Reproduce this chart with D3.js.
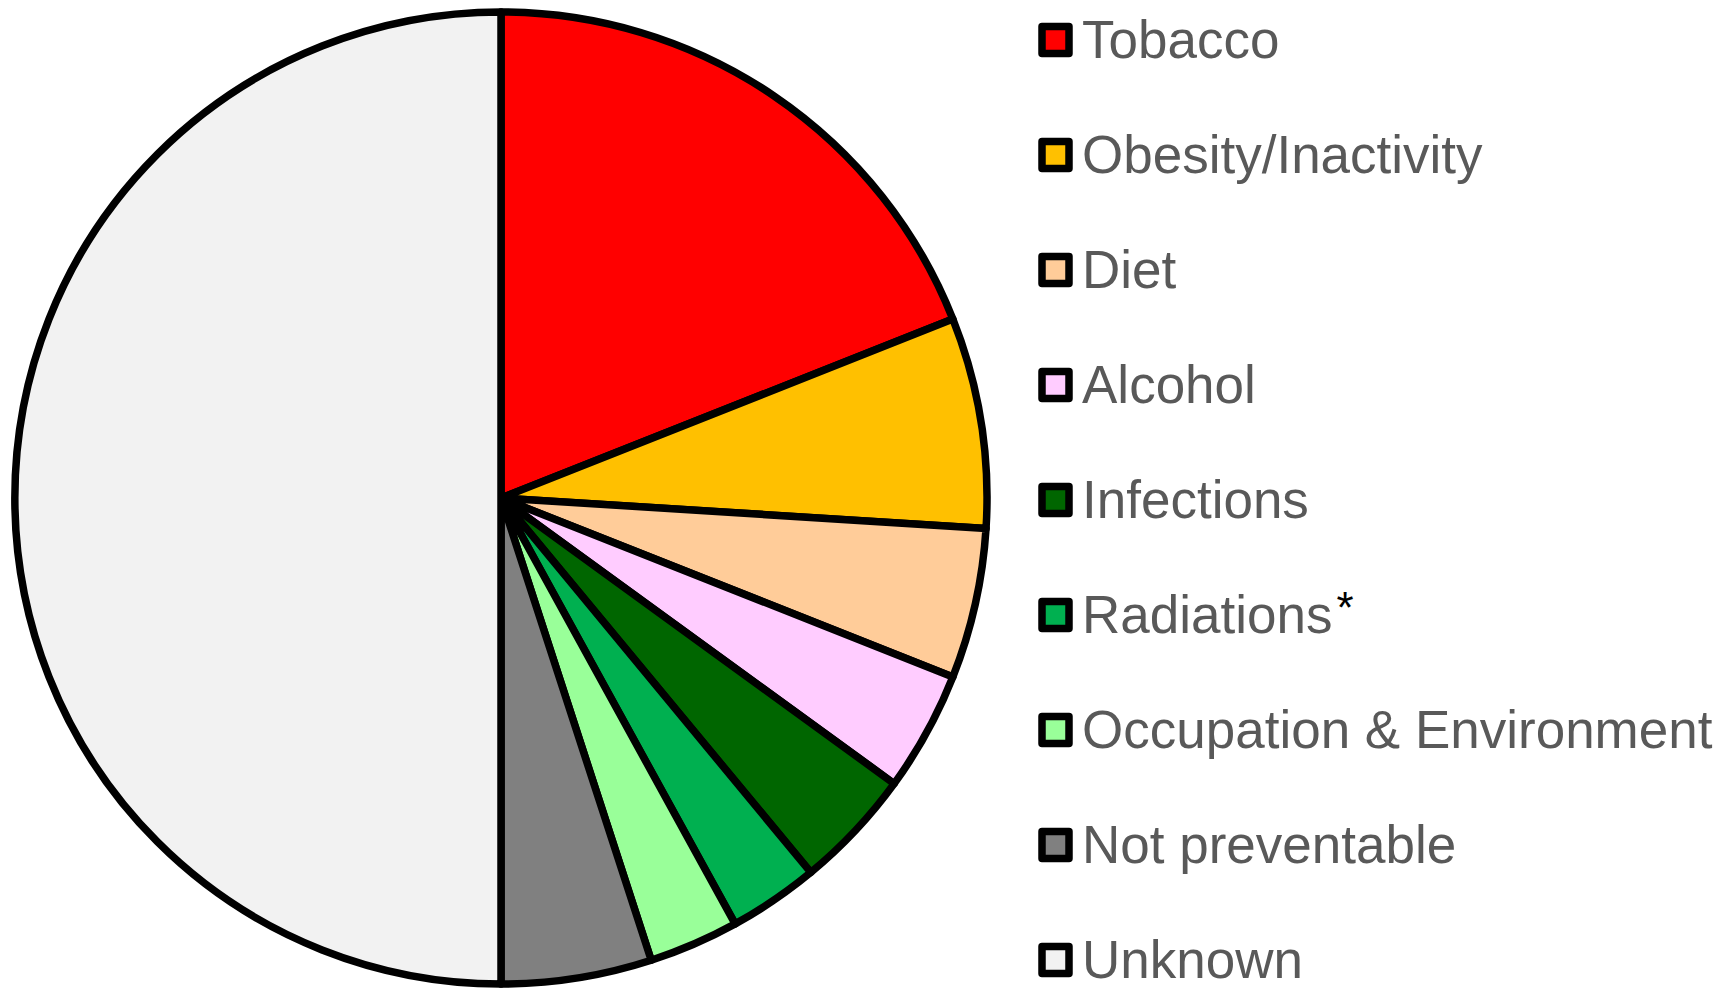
<!DOCTYPE html>
<html>
<head>
<meta charset="utf-8">
<script src="https://cdn.jsdelivr.net/npm/d3@7"></script>
<style>
  html, body { margin: 0; padding: 0; background: #fff; }
  svg { display: block; }
</style>
</head>
<body>
<svg id="chart"></svg>
<script>
// Causes of cancer (% share)
const categories = ['Tobacco', 'Obesity/Inactivity', 'Diet', 'Alcohol', 'Infections',
  'Radiations', 'Occupation & Environment', 'Not preventable', 'Unknown'];
const values = [19, 7, 5, 4, 4, 3, 3, 5, 50];
const colors = ['#ff0000', '#ffc000', '#ffcc99', '#ffccff', '#006600',
  '#00b050', '#99ff99', '#808080', '#f2f2f2'];
// labels that carry a footnote mark
const footnotes = ['', '', '', '', '', '*', '', '', ''];

const width = 1733, height = 989;
const cx = 501, cy = 498, radius = 486;

const svg = d3.select('#chart')
  .attr('width', width)
  .attr('height', height);

const data = categories.map((c, i) => ({ name: c, value: values[i], color: colors[i], note: footnotes[i] }));

// Pie, clockwise from 12 o'clock
const pie = d3.pie()
  .sort(null)
  .value(d => d.value);

const arc = d3.arc()
  .innerRadius(0)
  .outerRadius(radius);

const g = svg.append('g')
  .attr('transform', `translate(${cx},${cy})`);

g.selectAll('path.slice')
  .data(pie(data))
  .enter()
  .append('path')
  .attr('class', 'slice')
  .attr('d', arc)
  .attr('fill', d => d.data.color)
  .attr('stroke', '#000')
  .attr('stroke-width', 7.5)
  .attr('stroke-linejoin', 'round');

// Legend
const legendX = 1042, legendY0 = 40, rowStep = 115, box = 27;
const yScale = d3.scaleLinear()
  .domain([0, 1])
  .range([legendY0, legendY0 + rowStep]);

const legend = svg.append('g').attr('class', 'legend');

const rows = legend.selectAll('g.row')
  .data(data)
  .enter()
  .append('g')
  .attr('class', 'row')
  .attr('transform', (d, i) => `translate(${legendX},${yScale(i)})`);

rows.append('rect')
  .attr('x', 0)
  .attr('y', -box / 2)
  .attr('width', box)
  .attr('height', box)
  .attr('fill', d => d.color)
  .attr('stroke', '#000')
  .attr('stroke-width', 7.5)
  .attr('stroke-linejoin', 'round');

const label = rows.append('text')
  .attr('x', 40)
  .attr('y', 17.5)
  .style('font-family', '"Liberation Sans", Arial, sans-serif')
  .style('font-size', '53px')
  .attr('fill', '#595959')
  .text(d => d.name);

label.filter(d => d.note)
  .append('tspan')
  .attr('dy', -10)
  .attr('dx', 4)
  .style('font-size', '44px')
  .attr('fill', '#000')
  .text(d => d.note);
</script>
</body>
</html>
